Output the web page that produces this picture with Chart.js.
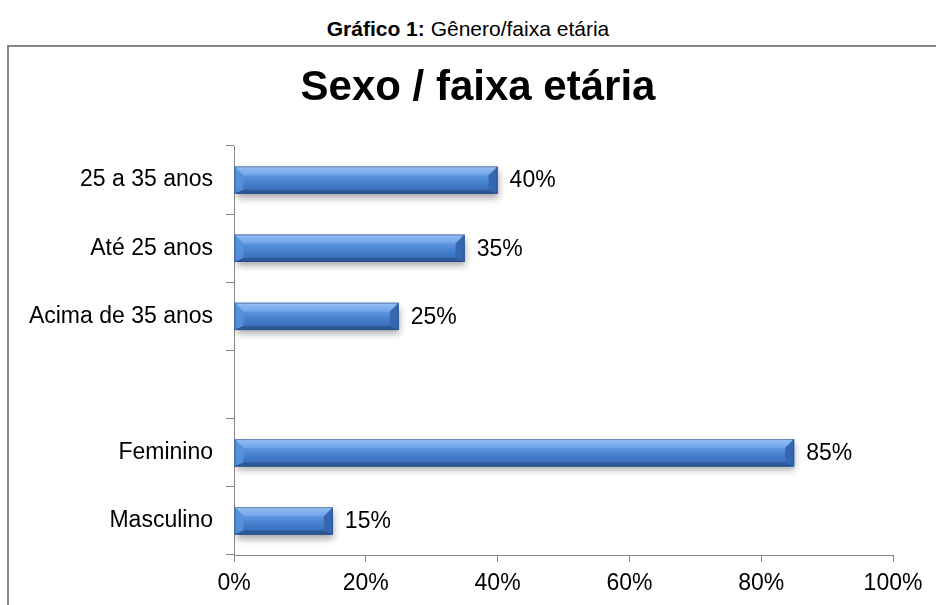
<!DOCTYPE html>
<html>
<head>
<meta charset="utf-8">
<script src="https://cdn.jsdelivr.net/npm/chart.js@4/dist/chart.umd.min.js"></script>
<style>
  html, body { margin: 0; padding: 0; background: #fff; width: 936px; height: 605px; overflow: hidden; }
  #caption { position: absolute; left: 0; top: 17px; width: 936px; text-align: center;
    font-family: "Liberation Sans", Arial, sans-serif; font-size: 21px; color: #000; line-height: 24px; }
  #box { position: absolute; left: 7px; top: 45px; width: 960px; height: 600px;
    border-left: 2px solid #868686; border-top: 2px solid #868686; }
  #wrap { position: absolute; left: 0; top: 0; width: 940px; height: 560px; }
</style>
</head>
<body>
<div id="caption"><b>Gráfico 1:</b> Gênero/faixa etária</div>
<div id="box"><div id="wrap"><canvas id="c" width="940" height="560"></canvas></div></div>
<script>
const chartTitle = 'Sexo / faixa etária';
const categories = ['25 a 35 anos', 'Até 25 anos', 'Acima de 35 anos', '', 'Feminino', 'Masculino'];
const percentValues = [40, 35, 25, null, 85, 15];
const xTickValues = [0, 20, 40, 60, 80, 100];

const FONT = '"Liberation Sans", Arial, sans-serif';

function poly(ctx, pts, fill) {
  ctx.fillStyle = fill;
  ctx.beginPath();
  ctx.moveTo(pts[0][0], pts[0][1]);
  for (let k = 1; k < pts.length; k++) ctx.lineTo(pts[k][0], pts[k][1]);
  ctx.closePath();
  ctx.fill();
}

const titleCentre = {
  id: 'titleCentre',
  afterLayout(chart) {
    const tb = chart.titleBlock;
    if (tb) { tb.left = 0; tb.right = 938; tb.width = 938; }
  }
};

const barStyle = {
  id: 'barStyle',
  beforeDatasetDraw(chart) {
    const ctx = chart.ctx;
    ctx.save();
    ctx.shadowColor = 'rgba(0,0,0,0.35)';
    ctx.shadowBlur = 7;
    ctx.shadowOffsetX = 1;
    ctx.shadowOffsetY = 4;
  },
  afterDatasetDraw(chart) {
    const ctx = chart.ctx;
    ctx.restore();
    const meta = chart.getDatasetMeta(0);
    meta.data.forEach((bar, i) => {
      if (percentValues[i] == null) return;
      const p = bar.getProps(['x', 'y', 'base', 'height'], true);
      const l = Math.min(p.x, p.base), r = Math.max(p.x, p.base);
      const t = p.y - p.height / 2, b = p.y + p.height / 2;
      const bt = Math.min(9, (r - l) / 3), bb = 4;
      ctx.save();
      const g = ctx.createLinearGradient(0, t + bt, 0, b - bb);
      g.addColorStop(0, '#5c96e0');
      g.addColorStop(0.5, '#4680cf');
      g.addColorStop(1, '#3a70bd');
      ctx.fillStyle = g;
      ctx.fillRect(l, t, r - l, b - t);
      const gt = ctx.createLinearGradient(0, t, 0, t + bt);
      gt.addColorStop(0, '#c2dbf8');
      gt.addColorStop(0.2, '#8dbaf1');
      gt.addColorStop(1, '#6ea3e7');
      poly(ctx, [[l, t], [r, t], [r - bt, t + bt], [l + bt, t + bt]], gt);
      poly(ctx, [[l, t], [l + bt, t + bt], [l + bt, b - bb], [l, b]], 'rgba(88,144,220,0.9)');
      poly(ctx, [[r, t], [r - bt, t + bt], [r - bt, b - bb], [r, b]], '#3568b0');
      poly(ctx, [[l, b], [l + bt, b - bb], [r - bt, b - bb], [r, b]], '#2c5895');
      ctx.strokeStyle = 'rgba(35,70,125,0.55)';
      ctx.lineWidth = 1;
      ctx.strokeRect(l + 0.5, t + 0.5, r - l - 1, b - t - 1);
      ctx.restore();
    });
  },
  afterDatasetsDraw(chart) {
    const ctx = chart.ctx;
    const meta = chart.getDatasetMeta(0);
    ctx.save();
    ctx.font = '23px ' + FONT;
    ctx.fillStyle = '#000';
    ctx.textAlign = 'left';
    ctx.textBaseline = 'middle';
    meta.data.forEach((bar, i) => {
      const v = percentValues[i];
      if (v == null) return;
      const p = bar.getProps(['x', 'y'], true);
      ctx.fillText(v + '%', p.x + 12, p.y + 1);
    });
    ctx.restore();
  }
};

new Chart(document.getElementById('c'), {
  type: 'bar',
  data: {
    labels: categories,
    datasets: [{
      data: percentValues,
      backgroundColor: '#3c72bd',
      borderWidth: 0,
      barPercentage: 0.4,
      categoryPercentage: 1
    }]
  },
  options: {
    indexAxis: 'y',
    responsive: false,
    animation: false,
    events: [],
    layout: { padding: { left: 0, right: 56, top: 0, bottom: 0 } },
    plugins: {
      legend: { display: false },
      tooltip: { enabled: false },
      title: {
        display: true,
        text: chartTitle,
        color: '#000',
        font: { family: FONT, size: 42, weight: 'bold', lineHeight: 1.2 },
        padding: { top: 16, bottom: 32.6 }
      }
    },
    scales: {
      x: {
        min: 0, max: 100,
        afterBuildTicks(scale) { scale.ticks = xTickValues.map(v => ({ value: v })); },
        afterFit(scale) { scale.height = 52; },
        border: { display: true, color: '#868686', width: 1 },
        grid: { drawOnChartArea: false, drawTicks: true, tickLength: 7, color: '#868686' },
        ticks: {
          color: '#000', padding: 8, maxRotation: 0,
          font: { family: FONT, size: 23 },
          callback: v => v + '%'
        }
      },
      y: {
        afterFit(scale) { scale.width = 225; },
        border: { display: true, color: '#868686', width: 1 },
        grid: { offset: true, drawOnChartArea: false, drawTicks: true, tickLength: 8, color: '#868686' },
        ticks: { color: '#000', padding: 13, font: { family: FONT, size: 23 } }
      }
    }
  },
  plugins: [titleCentre, barStyle]
});
</script>
</body>
</html>
